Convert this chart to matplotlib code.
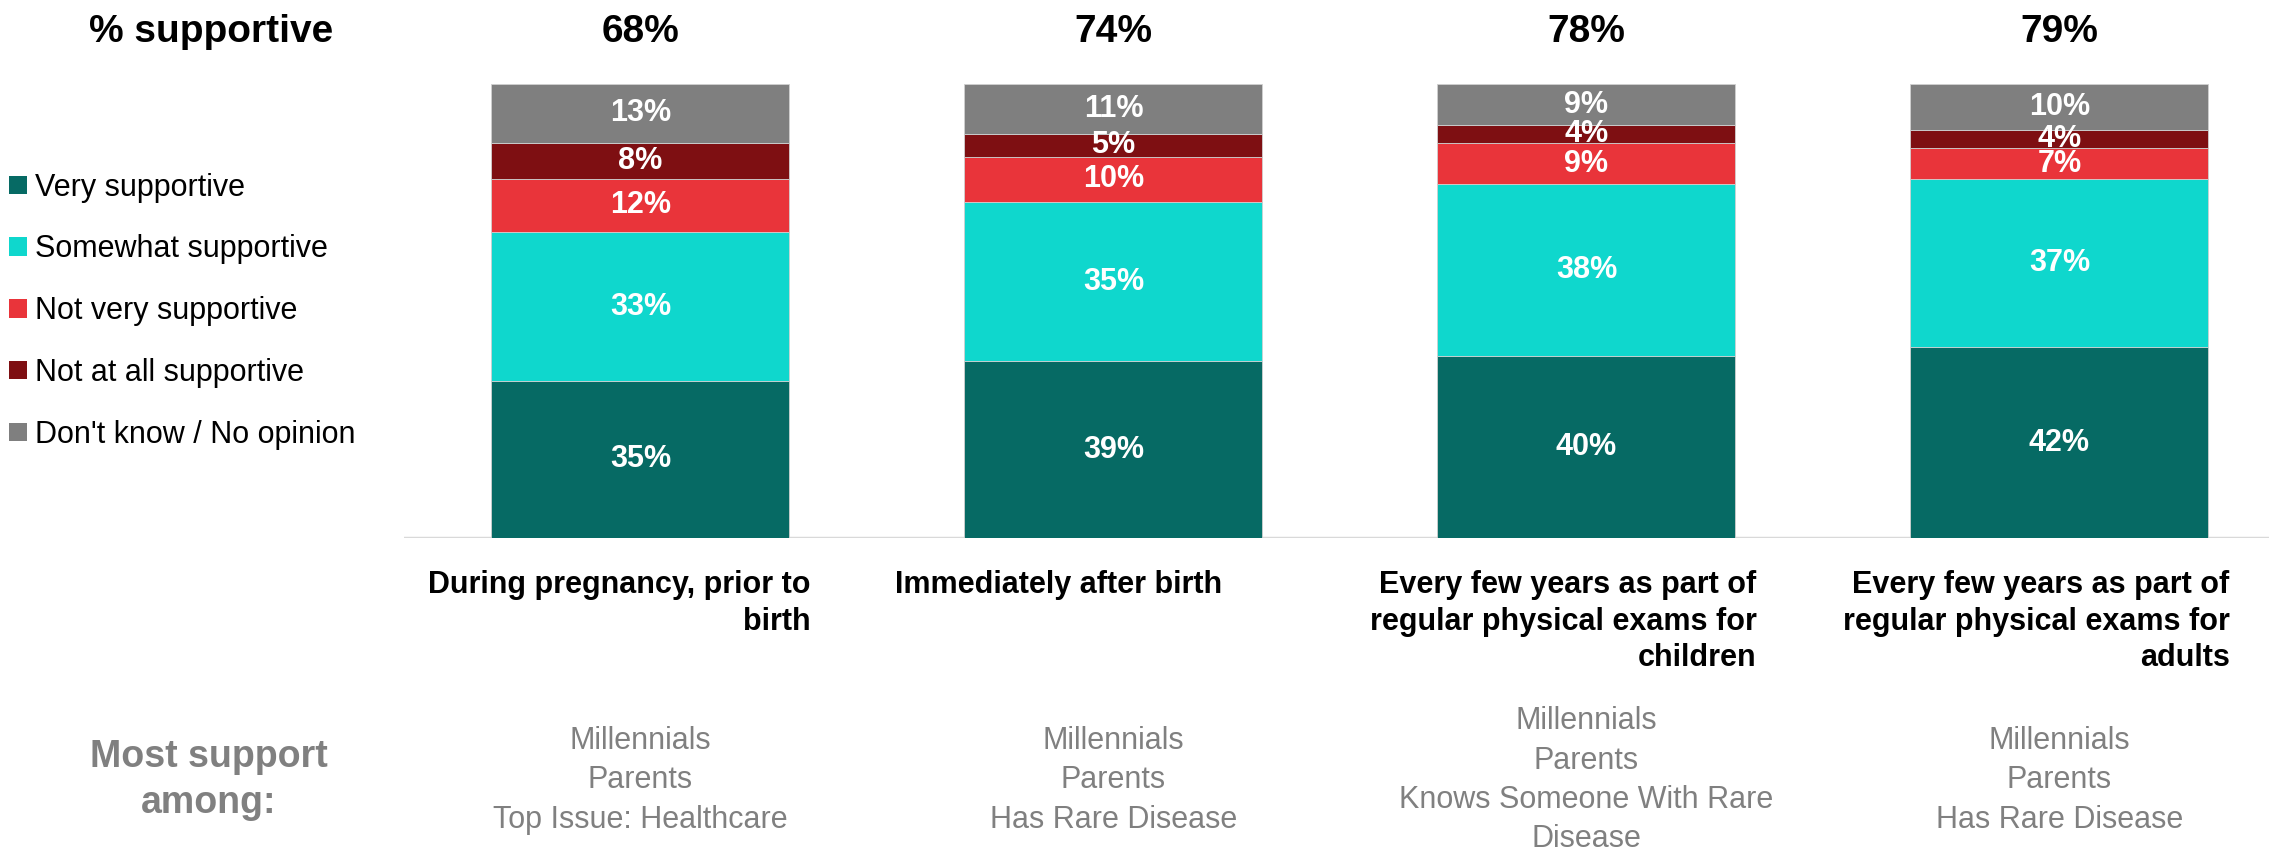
import matplotlib.pyplot as plt
from matplotlib.patches import Patch
from matplotlib.transforms import blended_transform_factory

plt.rcParams["font.family"] = ["Liberation Sans", "DejaVu Sans"]

CATEGORIES = [
    "During pregnancy, prior to\nbirth",
    "Immediately after birth",
    "Every few years as part of\nregular physical exams for\nchildren",
    "Every few years as part of\nregular physical exams for\nadults",
]
SERIES = ["Very supportive", "Somewhat supportive", "Not very supportive",
          "Not at all supportive", "Don't know / No opinion"]
VERY = [35, 39, 40, 42]
SOMEWHAT = [33, 35, 38, 37]
NOT_VERY = [12, 10, 9, 7]
NOT_AT_ALL = [8, 5, 4, 4]
DONT_KNOW = [13, 11, 9, 10]
TOTAL_SUPPORT = [68, 74, 78, 79]
MOST_SUPPORT = [
    ["Millennials", "Parents", "Top Issue: Healthcare"],
    ["Millennials", "Parents", "Has Rare Disease"],
    ["Millennials", "Parents", "Knows Someone With Rare", "Disease"],
    ["Millennials", "Parents", "Has Rare Disease"],
]

COLORS = ["#066A64", "#0FD7CD", "#E9343A", "#7E0F12", "#7F7F7F"]
# per-category label anchor offset and alignment (PowerPoint-style)
LABEL_POS = [(0.36, "right"), (0.23, "right"), (0.36, "right"), (0.36, "right")]

fig = plt.figure(figsize=(22.69, 8.5), dpi=100)
ax = fig.add_axes([0.178, 0.367, 0.822, 0.534])

series_vals = [VERY, SOMEWHAT, NOT_VERY, NOT_AT_ALL, DONT_KNOW]
n = len(CATEGORIES)
xs = list(range(n))
totals = [sum(s[i] for s in series_vals) for i in xs]
width = 0.63

bottoms = [0.0] * n
for vals, col, name in zip(series_vals, COLORS, SERIES):
    heights = [v / t * 100 for v, t in zip(vals, totals)]
    ax.bar(xs, heights, width, bottom=bottoms, color=col, edgecolor="#d0d0d0",
           linewidth=0.6, label=name)
    for i in xs:
        ax.text(i, bottoms[i] + heights[i] / 2, f"{vals[i]}%", ha="center", va="center",
                color="white", fontsize=22, fontweight="bold")
    bottoms = [b + h for b, h in zip(bottoms, heights)]

ax.set_xlim(-0.5, 3.443)
ax.set_ylim(0, 100)
ax.axis("off")
ax.axhline(0, color="#d9d9d9", linewidth=2.5, zorder=0)

tr = blended_transform_factory(ax.transData, fig.transFigure)
for i in xs:
    ax.text(i, 0.962, f"{TOTAL_SUPPORT[i]}%", transform=tr, ha="center", va="center",
            fontsize=28, fontweight="bold")
    off, ha = LABEL_POS[i]
    ax.text(i + off, 0.329, CATEGORIES[i], transform=tr, ha=ha, va="top",
            multialignment="right", fontsize=22, fontweight="bold", linespacing=1.27)
    ax.text(i, 0.082, "\n".join(MOST_SUPPORT[i]), transform=tr, ha="center", va="center",
            fontsize=22, color="#808080", linespacing=1.41)

fig.text(0.093, 0.962, "% supportive", ha="center", va="center", fontsize=28,
         fontweight="bold")
fig.text(0.092, 0.082, "Most support\namong:", ha="center", va="center", fontsize=27,
         fontweight="bold", color="#808080", linespacing=1.36)

handles = [Patch(facecolor=c, edgecolor="none") for c in COLORS]
fig.legend(handles, SERIES, loc="upper left", bbox_to_anchor=(0.004, 0.797),
           frameon=False, fontsize=22, handlelength=0.6, handleheight=0.55,
           handletextpad=0.25, labelspacing=1.04, borderpad=0, borderaxespad=0)

fig.savefig("out.png", dpi=100)
